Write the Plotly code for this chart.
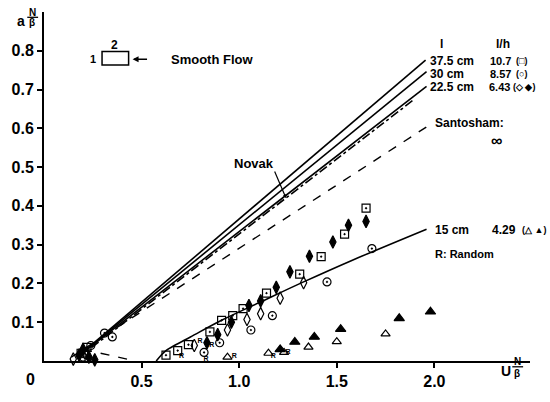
import plotly.graph_objects as go

# ---------------- data ----------------
# straight lines (start / end points)
l375_x = [0.17, 1.955]; l375_y = [0.01, 0.776]
l30_x = [0.17, 1.96];   l30_y = [0.01, 0.746]
l225_x = [0.17, 1.96];  l225_y = [0.01, 0.708]
novak_x = [0.17, 1.90]; novak_y = [0.006, 0.676]
sant_x = [0.14, 1.97];  sant_y = [0.01, 0.607]
sant_low_x = [0.20, 0.47]; sant_low_y = [0.03, 0.0]
# 15 cm curve
c15_x = [0.575, 0.60, 0.625, 0.675, 0.75, 0.91, 1.10, 1.33, 1.58, 1.96]
c15_y = [0.0, 0.015, 0.027, 0.042, 0.062, 0.105, 0.15, 0.204, 0.26, 0.34]

# measured points
sq_x = [0.625, 0.685, 0.74, 0.85, 0.91, 0.967, 1.02, 1.14, 1.31, 1.42, 1.54, 1.65, 0.19, 0.22]
sq_y = [0.015, 0.027, 0.042, 0.075, 0.105, 0.117, 0.135, 0.175, 0.224, 0.269, 0.327, 0.394, 0.02, 0.035]

ci_x = [0.31, 0.35, 0.82, 0.90, 1.06, 1.17, 1.45, 1.68, 0.20, 0.24]
ci_y = [0.072, 0.062, 0.022, 0.047, 0.08, 0.117, 0.204, 0.29, 0.01, 0.04]

od_x = [0.64, 0.77, 0.94, 1.04, 1.11, 1.21, 1.33, 0.15, 0.21]
od_y = [-0.008, 0.04, 0.08, 0.107, 0.122, 0.162, 0.202, 0.005, 0.02]

fd_x = [0.77, 0.835, 0.89, 0.96, 1.05, 1.11, 1.19, 1.26, 1.36, 1.48, 1.56, 1.65,
        0.18, 0.20, 0.23, 0.26]
fd_y = [-0.010, 0.047, 0.068, 0.10, 0.143, 0.155, 0.19, 0.23, 0.27, 0.307, 0.35, 0.36,
        0.015, 0.03, 0.01, 0.003]

ot_x = [0.94, 1.15, 1.23, 1.355, 1.50, 1.75]
ot_y = [0.01, 0.02, 0.022, 0.036, 0.05, 0.07]

ft_x = [1.21, 1.285, 1.385, 1.52, 1.82, 1.98]
ft_y = [0.03, 0.049, 0.062, 0.082, 0.11, 0.127]

# "R" (random) labels
r_x = [0.705, 0.80, 0.86, 0.83, 0.975, 1.175, 1.25]
r_y = [0.012, 0.052, 0.040, 0.004, 0.012, 0.013, 0.022]

x_ticks = [0.5, 1.0, 1.5, 2.0]
x_ticklabels = ["0.5", "1.0", "1.5", "2.0"]
y_ticks = [0.1, 0.2, 0.3, 0.4, 0.5, 0.6, 0.7, 0.8]
y_ticklabels = ["0.1", "0.2", "0.3", "0.4", "0.5", "0.6", "0.7", "0.8"]

# ---------------- layout helpers ----------------
W, H = 550, 402
L, R, T, B = 36, 20, 12, 28
PW, PH = W - L - R, H - T - B


def px(x):
    return (x - L) / PW


def py(y):
    return (H - B - y) / PH


FONT = "Liberation Sans"
fig = go.Figure()

solid = dict(color="black", width=1.6)
for xs, ys in [(l375_x, l375_y), (l30_x, l30_y), (l225_x, l225_y)]:
    fig.add_trace(go.Scatter(x=xs, y=ys, mode="lines", line=solid, showlegend=False))
fig.add_trace(go.Scatter(x=novak_x, y=novak_y, mode="lines",
                         line=dict(color="black", width=1.6, dash="dashdot"), showlegend=False))
fig.add_trace(go.Scatter(x=sant_x, y=sant_y, mode="lines",
                         line=dict(color="black", width=1.4, dash="dash"), showlegend=False))
fig.add_trace(go.Scatter(x=sant_low_x, y=sant_low_y, mode="lines",
                         line=dict(color="black", width=1.4, dash="dash"), showlegend=False))
fig.add_trace(go.Scatter(x=c15_x, y=c15_y, mode="lines", line=dict(color="black", width=1.6, shape="spline"),
                         showlegend=False))

mk = dict(color="black", size=8, line=dict(color="black", width=1.2))
for xs, ys, sym, sz in [(sq_x, sq_y, "square-open-dot", 8), (ci_x, ci_y, "circle-open-dot", 8),
                        (od_x, od_y, "diamond-tall-open", 9), (fd_x, fd_y, "diamond-tall", 9),
                        (ot_x, ot_y, "triangle-up-open", 8), (ft_x, ft_y, "triangle-up", 9)]:
    m = dict(mk); m["symbol"] = sym; m["size"] = sz
    fig.add_trace(go.Scatter(x=xs, y=ys, mode="markers", marker=m, cliponaxis=False, showlegend=False))

fig.add_trace(go.Scatter(x=r_x, y=r_y, mode="text", text=["R"] * len(r_x),
                         textfont=dict(family=FONT, size=7, color="black", weight="bold"),
                         cliponaxis=False, showlegend=False))

ann = []


def txt(s, x, y, size=12, xanchor="left", yanchor="middle"):
    ann.append(dict(text=s, x=px(x), y=py(y), xref="paper", yref="paper", showarrow=False,
                    xanchor=xanchor, yanchor=yanchor,
                    font=dict(family=FONT, size=size, color="black", weight="bold")))


txt("l", 440, 45, xanchor="center")
txt("l/h", 503, 45, xanchor="center")
txt("37.5 cm", 426, 63)
txt("10.7", 487, 63, size=11)
txt("(□)", 514, 63, size=9)
txt("30 cm", 426, 76)
txt("8.57", 487, 76, size=11)
txt("(○)", 514, 76, size=9)
txt("22.5 cm", 426, 90)
txt("6.43", 486, 90, size=11)
txt("(◇ ◆)", 511, 90, size=9)
txt("Santosham:", 431, 127)
txt("∞", 496, 145, size=16, xanchor="center")
txt("15 cm", 431, 238)
txt("4.29", 489, 238)
txt("(△ ▲)", 520, 238, size=9)
txt("R: Random", 431, 263, size=11)
txt("Smooth Flow", 163, 61, size=13)
txt("1", 86, 61, size=11, xanchor="center")
txt("2", 108, 46, size=12, xanchor="center")
txt("Novak", 249, 169, size=13, xanchor="center")
txt("0", 22, 393, size=16, xanchor="center")
# axis titles
txt("a", 13, 21, size=14, xanchor="center")
txt("N", 24, 12, size=10, xanchor="center")
txt("β", 24, 23, size=10, xanchor="center")
txt("U", 506, 384, size=14, xanchor="center")
txt("N", 517, 374, size=10, xanchor="center")
txt("β", 517, 387, size=10, xanchor="center")

# arrows (tail offsets in pixels)
ann.append(dict(x=px(126), y=py(61), ax=16, ay=0, xref="paper", yref="paper",
                text="", showarrow=True, arrowhead=2,
                arrowsize=0.8, arrowwidth=1.5, arrowcolor="black"))
ann.append(dict(x=px(282), y=py(205), ax=-12, ay=-28, xref="paper", yref="paper",
                text="", showarrow=True, arrowhead=2,
                arrowsize=0.6, arrowwidth=1.2, arrowcolor="black"))

shapes = [
    dict(type="rect", xref="paper", yref="paper", x0=px(95), x1=px(122), y0=py(67), y1=py(53),
         line=dict(color="black", width=1.5)),
    dict(type="line", xref="paper", yref="paper", x0=px(19), x1=px(30), y0=py(17.5), y1=py(17.5),
         line=dict(color="black", width=1.3)),
    dict(type="line", xref="paper", yref="paper", x0=px(512), x1=px(523), y0=py(380), y1=py(380),
         line=dict(color="black", width=1.3)),
]

fig.update_layout(
    width=W, height=H, margin=dict(l=L, r=R, t=T, b=B),
    paper_bgcolor="white", plot_bgcolor="white",
    annotations=ann, shapes=shapes,
    xaxis=dict(range=[0, 2.49], showline=True, linecolor="black", linewidth=2,
               ticks="outside", ticklen=5, tickwidth=1.5, tickcolor="black",
               tickvals=x_ticks, ticktext=x_ticklabels, showgrid=False, zeroline=False,
               tickfont=dict(family=FONT, size=16, color="black", weight="bold")),
    yaxis=dict(range=[0, 0.9], showline=True, linecolor="black", linewidth=2,
               ticks="outside", ticklen=5, tickwidth=1.5, tickcolor="black",
               tickvals=y_ticks, ticktext=y_ticklabels, showgrid=False, zeroline=False,
               tickfont=dict(family=FONT, size=16, color="black", weight="bold")),
)

fig.write_html("out.html")
